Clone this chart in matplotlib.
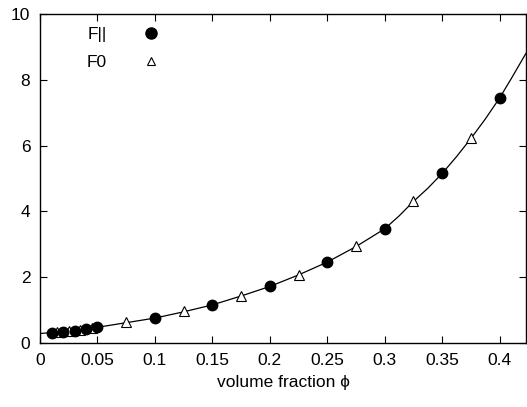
import numpy as np
import matplotlib.pyplot as plt

# data
phi_par = [0.01, 0.02, 0.03, 0.04, 0.05, 0.1, 0.15, 0.2, 0.25, 0.3, 0.35, 0.4]
f_par = [0.32, 0.35, 0.38, 0.43, 0.48, 0.75, 1.15, 1.72, 2.45, 3.47, 5.16, 7.44]

phi_0 = [0.015, 0.025, 0.035, 0.045, 0.075, 0.125, 0.175, 0.225, 0.275, 0.325, 0.375]
f_0 = [0.335, 0.365, 0.40, 0.455, 0.63, 0.96, 1.44, 2.08, 2.94, 4.32, 6.22]

# fitted curve
phi_fit = [0.0, 0.025, 0.05, 0.075, 0.1, 0.125, 0.15, 0.175, 0.2, 0.225, 0.25,
           0.275, 0.3, 0.3125, 0.325, 0.3375, 0.35, 0.3625, 0.375, 0.3875, 0.4, 0.41, 0.423]
f_fit = [0.29, 0.37, 0.48, 0.62, 0.76, 0.95, 1.16, 1.43, 1.72, 2.07, 2.46,
         2.93, 3.47, 3.86, 4.30, 4.70, 5.15, 5.66, 6.21, 6.80, 7.44, 8.02, 8.80]

plt.rcParams['font.family'] = ['Liberation Sans', 'DejaVu Sans']
plt.rcParams['font.size'] = 12.5

fig = plt.figure(figsize=(5.27, 4.07), dpi=100)
ax = fig.add_axes([0.076, 0.157, 0.922, 0.809])

ax.plot(phi_fit, f_fit, color='black', lw=0.9, zorder=1)
ax.plot(phi_par, f_par, 'o', color='black', ms=7.5, ls='none', label='F||', zorder=3)
ax.plot(phi_0, f_0, '^', mfc='white', mec='black', mew=0.8, ms=7.5, ls='none', label='F0', zorder=2)

ax.set_xlim(0, 0.423)
ax.set_ylim(0, 10)
ax.set_xticks([0, 0.05, 0.1, 0.15, 0.2, 0.25, 0.3, 0.35, 0.4])
ax.set_xticklabels(['0', '0.05', '0.1', '0.15', '0.2', '0.25', '0.3', '0.35', '0.4'])
ax.set_yticks([0, 2, 4, 6, 8, 10])
ax.tick_params(direction='in', length=5, width=0.8, top=True, right=True, pad=7)
for s in ax.spines.values():
    s.set_linewidth(1.0)

ax.set_xlabel('volume fraction \u03d5', labelpad=5)

leg = ax.legend(loc='upper left', bbox_to_anchor=(0.07, 1.0), frameon=False,
                markerfirst=False, handlelength=2.2, handletextpad=1.4,
                labelspacing=0.72, borderaxespad=0.35)
leg.legend_handles[0].set_markersize(8)
leg.legend_handles[1].set_markersize(6)

fig.savefig('out.png', dpi=100)
